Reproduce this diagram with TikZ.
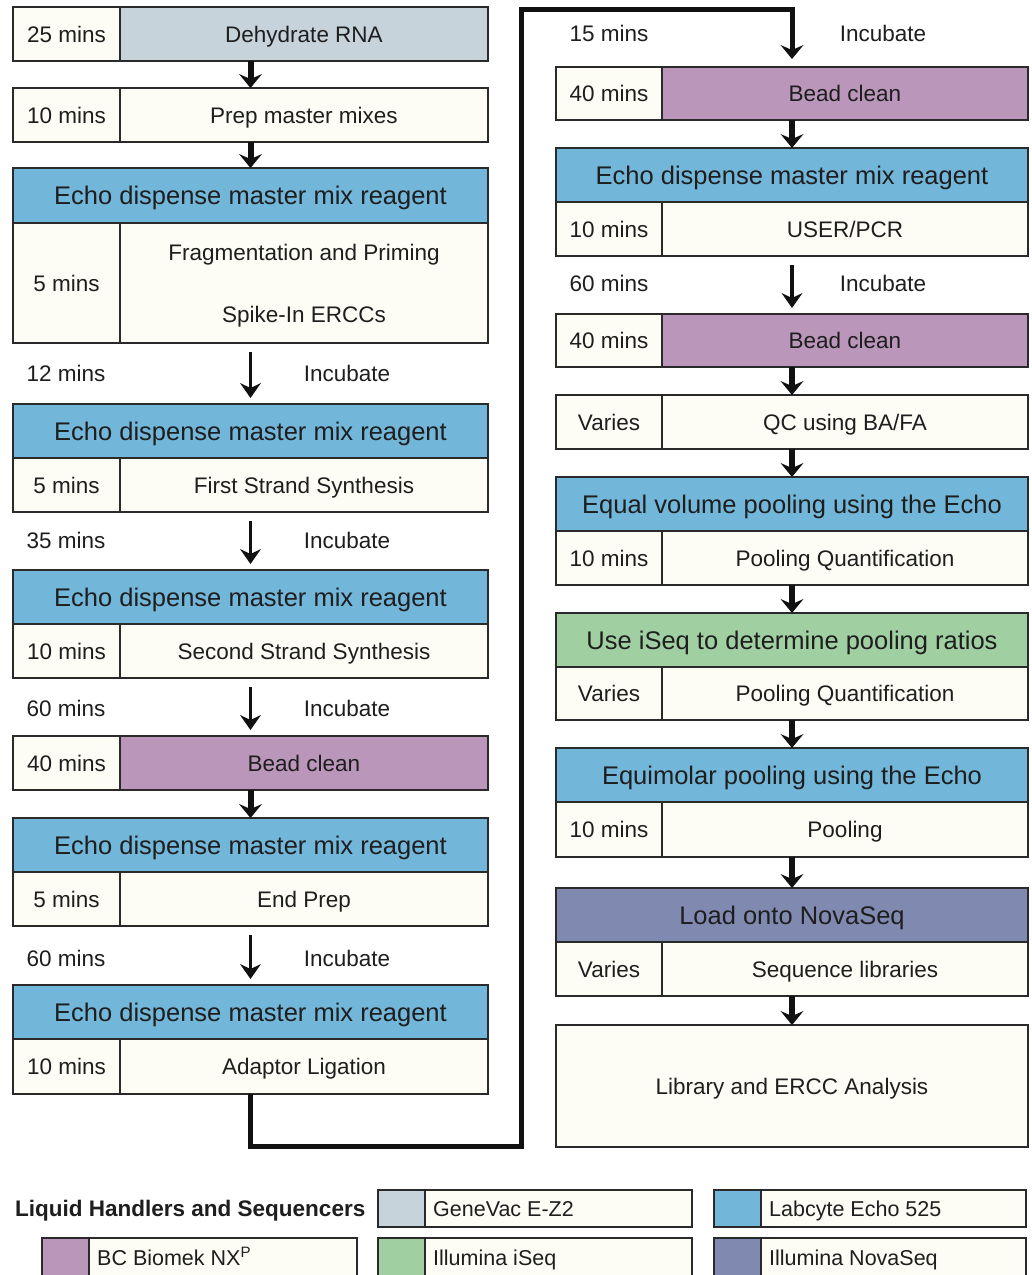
\documentclass[tikz,border=0pt]{standalone}
\usepackage{fontspec}
\setmainfont{Liberation Sans}
\usetikzlibrary{arrows.meta}
\definecolor{cream}{HTML}{FDFDF6}
\definecolor{genevac}{HTML}{C6D3DB}
\definecolor{echo}{HTML}{72B6D9}
\definecolor{biomek}{HTML}{B996BA}
\definecolor{iseq}{HTML}{A0D0A2}
\definecolor{novaseq}{HTML}{808AB1}
\definecolor{bordc}{HTML}{2A2A2A}
\definecolor{txtc}{HTML}{1E1E1E}
\definecolor{linec}{HTML}{111111}
\tikzset{
  cell/.style={draw=bordc, line width=2pt, fill=cream, inner sep=0pt, outer sep=0pt,
    text=txtc, align=center, font=\fontsize{22.5}{27}\selectfont, text height=16pt, text depth=0pt},
  headcell/.style={cell, fill=echo, font=\fontsize{25.5}{30}\selectfont, text height=18pt},
  blockframe/.style={draw=none, fill=none, inner sep=0pt, outer sep=0pt},
  gaptext/.style={text=txtc, font=\fontsize{22.5}{27}\selectfont, inner sep=0pt, text height=16pt, text depth=0pt},
  legtext/.style={text=txtc, font=\fontsize{21.5}{26}\selectfont, inner sep=0pt},
  shortarrow/.style={draw=linec, line width=6pt, -{Stealth[length=14pt,width=23pt,inset=5pt,line width=0pt]}},
  longarrow/.style={draw=linec, line width=3.5pt, -{Stealth[length=15pt,width=21pt,inset=5pt,line width=0pt]}, shorten <=9pt, shorten >=6pt},
  connector/.style={draw=linec, line width=5pt, -{Stealth[length=14pt,width=23pt,inset=5pt,line width=0pt]}, shorten >=8pt}
}
\newcommand{\mkbox}[7]{%
  \node[#6, minimum width={#3-#2}, minimum height={#5-#4}] (#1) at ({(#2+#3)/2},{(#4+#5)/2}) {#7};}
\newcommand{\legentry}[8]{%
  \mkbox{#1s}{#2}{#3}{#5}{#6}{cell,fill=#7}{}%
  \mkbox{#1b}{#3}{#4}{#5}{#6}{cell}{}%
  \node[legtext, anchor=base west] (#1t) at ({#3+8},{(#5+#6)/2+7.7}) {#8};}
\begin{document}
\begin{tikzpicture}[x=1pt,y=-1pt]
\useasboundingbox[fill=white] (0,0) rectangle (1032,1275);
% ---------------- left column ----------------
\mkbox{B1t}{13}{120}{7}{61}{cell}{25 mins}
\mkbox{B1l}{120}{488}{7}{61}{cell,fill=genevac}{Dehydrate RNA}
\mkbox{B1}{13}{488}{7}{61}{blockframe}{}
\mkbox{B2t}{13}{120}{88}{142}{cell}{10 mins}
\mkbox{B2l}{120}{488}{88}{142}{cell}{Prep master mixes}
\mkbox{B2}{13}{488}{88}{142}{blockframe}{}
\mkbox{B3h}{13}{488}{168}{223}{headcell}{Echo dispense master mix reagent}
\mkbox{B3t}{13}{120}{223}{343}{cell}{5 mins}
\mkbox{B3l}{120}{488}{223}{343}{cell,text height=78pt}{Fragmentation and Priming\\[35pt]Spike-In ERCCs}
\mkbox{B3}{13}{488}{168}{343}{blockframe}{}
\node[gaptext] (g1t) at (66,373) {12 mins};
\node[gaptext] (g1l) at (347,373) {Incubate};
\mkbox{B4h}{13}{488}{404}{458}{headcell}{Echo dispense master mix reagent}
\mkbox{B4t}{13}{120}{458}{512}{cell}{5 mins}
\mkbox{B4l}{120}{488}{458}{512}{cell}{First Strand Synthesis}
\mkbox{B4}{13}{488}{404}{512}{blockframe}{}
\node[gaptext] (g2t) at (66,540) {35 mins};
\node[gaptext] (g2l) at (347,540) {Incubate};
\mkbox{B5h}{13}{488}{570}{624}{headcell}{Echo dispense master mix reagent}
\mkbox{B5t}{13}{120}{624}{678}{cell}{10 mins}
\mkbox{B5l}{120}{488}{624}{678}{cell}{Second Strand Synthesis}
\mkbox{B5}{13}{488}{570}{678}{blockframe}{}
\node[gaptext] (g3t) at (66,708) {60 mins};
\node[gaptext] (g3l) at (347,708) {Incubate};
\mkbox{B6t}{13}{120}{736}{790}{cell}{40 mins}
\mkbox{B6l}{120}{488}{736}{790}{cell,fill=biomek}{Bead clean}
\mkbox{B6}{13}{488}{736}{790}{blockframe}{}
\mkbox{B7h}{13}{488}{818}{872}{headcell}{Echo dispense master mix reagent}
\mkbox{B7t}{13}{120}{872}{926}{cell}{5 mins}
\mkbox{B7l}{120}{488}{872}{926}{cell}{End Prep}
\mkbox{B7}{13}{488}{818}{926}{blockframe}{}
\node[gaptext] (g4t) at (66,958) {60 mins};
\node[gaptext] (g4l) at (347,958) {Incubate};
\mkbox{B8h}{13}{488}{985}{1039}{headcell}{Echo dispense master mix reagent}
\mkbox{B8t}{13}{120}{1039}{1094}{cell}{10 mins}
\mkbox{B8l}{120}{488}{1039}{1094}{cell}{Adaptor Ligation}
\mkbox{B8}{13}{488}{985}{1094}{blockframe}{}
% ---------------- right column ----------------
\node[gaptext] (h1t) at (609,33) {15 mins};
\node[gaptext] (h1l) at (883,33) {Incubate};
\mkbox{C1t}{556}{662}{67}{120}{cell}{40 mins}
\mkbox{C1l}{662}{1028}{67}{120}{cell,fill=biomek}{Bead clean}
\mkbox{C1}{556}{1028}{67}{120}{blockframe}{}
\mkbox{C2h}{556}{1028}{148}{202}{headcell}{Echo dispense master mix reagent}
\mkbox{C2t}{556}{662}{202}{256}{cell}{10 mins}
\mkbox{C2l}{662}{1028}{202}{256}{cell}{USER/PCR}
\mkbox{C2}{556}{1028}{148}{256}{blockframe}{}
\node[gaptext] (h2t) at (609,283) {60 mins};
\node[gaptext] (h2l) at (883,283) {Incubate};
\mkbox{C3t}{556}{662}{314}{367}{cell}{40 mins}
\mkbox{C3l}{662}{1028}{314}{367}{cell,fill=biomek}{Bead clean}
\mkbox{C3}{556}{1028}{314}{367}{blockframe}{}
\mkbox{C4t}{556}{662}{395}{449}{cell}{Varies}
\mkbox{C4l}{662}{1028}{395}{449}{cell}{QC using BA/FA}
\mkbox{C4}{556}{1028}{395}{449}{blockframe}{}
\mkbox{C5h}{556}{1028}{477}{531}{headcell}{Equal volume pooling using the Echo}
\mkbox{C5t}{556}{662}{531}{585}{cell}{10 mins}
\mkbox{C5l}{662}{1028}{531}{585}{cell}{Pooling Quantification}
\mkbox{C5}{556}{1028}{477}{585}{blockframe}{}
\mkbox{C6h}{556}{1028}{613}{667}{headcell,fill=iseq}{Use iSeq to determine pooling ratios}
\mkbox{C6t}{556}{662}{667}{720}{cell}{Varies}
\mkbox{C6l}{662}{1028}{667}{720}{cell}{Pooling Quantification}
\mkbox{C6}{556}{1028}{613}{720}{blockframe}{}
\mkbox{C7h}{556}{1028}{748}{802}{headcell}{Equimolar pooling using the Echo}
\mkbox{C7t}{556}{662}{802}{857}{cell}{10 mins}
\mkbox{C7l}{662}{1028}{802}{857}{cell}{Pooling}
\mkbox{C7}{556}{1028}{748}{857}{blockframe}{}
\mkbox{C8h}{556}{1028}{888}{942}{headcell,fill=novaseq}{Load onto NovaSeq}
\mkbox{C8t}{556}{662}{942}{996}{cell}{Varies}
\mkbox{C8l}{662}{1028}{942}{996}{cell}{Sequence libraries}
\mkbox{C8}{556}{1028}{888}{996}{blockframe}{}
\mkbox{C9}{556}{1028}{1025}{1147}{cell}{Library and ERCC Analysis}
% ---------------- arrows ----------------
\draw[shortarrow] (B1) -- (B2);
\draw[shortarrow] (B2) -- (B3);
\draw[longarrow] (B3) -- (B4);
\draw[longarrow] (B4) -- (B5);
\draw[longarrow] (B5) -- (B6);
\draw[shortarrow] (B6) -- (B7);
\draw[longarrow] (B7) -- (B8);
\draw[shortarrow] (C1) -- (C2);
\draw[longarrow] (C2) -- (C3);
\draw[shortarrow] (C3) -- (C4);
\draw[shortarrow] (C4) -- (C5);
\draw[shortarrow] (C5) -- (C6);
\draw[shortarrow] (C6) -- (C7);
\draw[shortarrow] (C7) -- (C8);
\draw[shortarrow] (C8) -- (C9);
\coordinate (k1) at (521,1146);
\coordinate (k2) at (521,9);
\draw[connector] (B8.south) |- (k1) -- (k2) -| (C1.north);
% ---------------- legend ----------------
\node[text=txtc, font=\bfseries\fontsize{22.5}{27}\selectfont, inner sep=0pt, anchor=base west] (legtitle) at (15,1216) {Liquid Handlers and Sequencers};
\legentry{Lg}{378}{425}{692}{1190}{1227}{genevac}{GeneVac E-Z2}
\legentry{Le}{714}{761}{1026}{1190}{1227}{echo}{Labcyte Echo 525}
\legentry{Lb}{42}{89}{357}{1238}{1277}{biomek}{BC Biomek NX\textsuperscript{P}}
\legentry{Li}{378}{425}{692}{1238}{1277}{iseq}{Illumina iSeq}
\legentry{Ln}{714}{761}{1026}{1238}{1277}{novaseq}{Illumina NovaSeq}
\end{tikzpicture}
\end{document}
